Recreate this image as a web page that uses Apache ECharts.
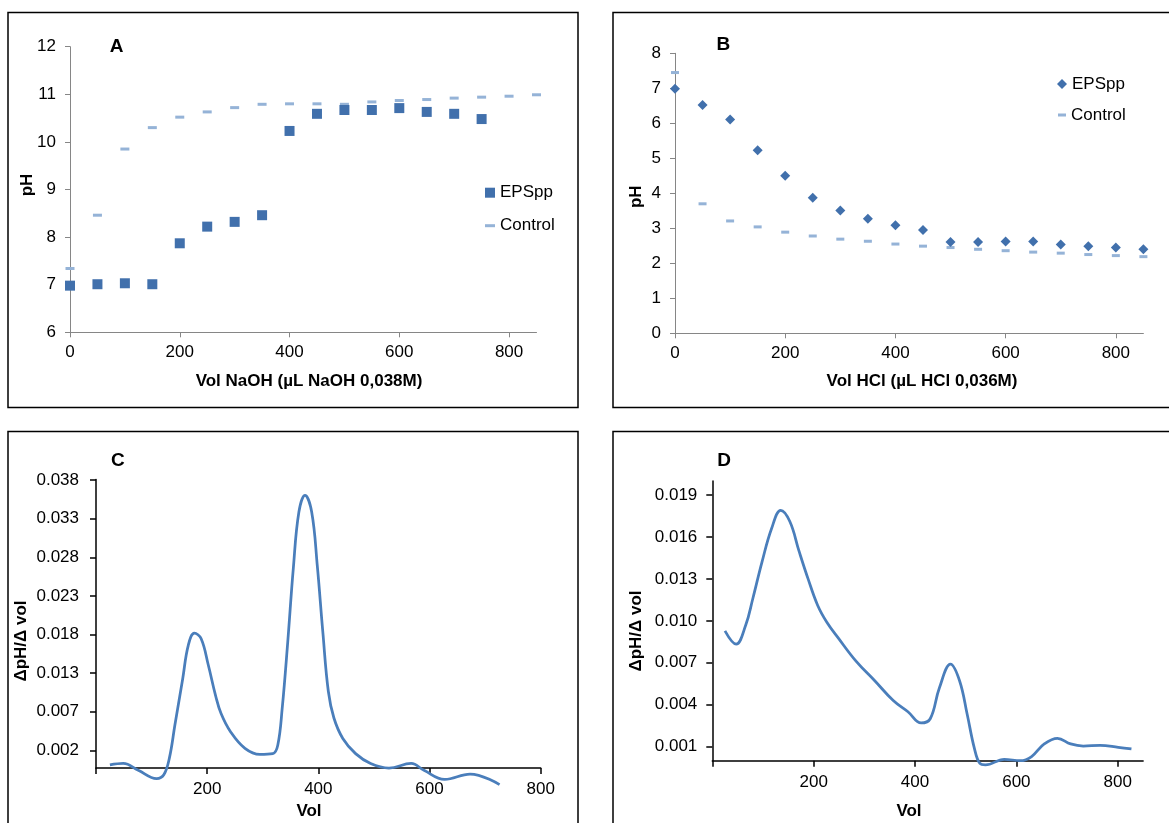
<!DOCTYPE html>
<html>
<head>
<meta charset="utf-8">
<title>Titration curves</title>
<script src="https://cdn.jsdelivr.net/npm/echarts@6/dist/echarts.min.js"></script>
<style>
  html, body { margin: 0; padding: 0; background: #fff; }
  #chart { width: 1169px; height: 823px; }
</style>
</head>
<body>
<div id="chart"></div>
<script>
// ---- Panel A: titration with NaOH ----
const volA = [0, 50, 100, 150, 200, 250, 300, 350, 400, 450, 500, 550, 600, 650, 700, 750, 800, 850];
const epsA = [6.98, 7.01, 7.03, 7.01, 7.87, 8.22, 8.32, 8.46, 10.23, 10.59, 10.67, 10.67, 10.71, 10.63, 10.59, 10.48];
const ctrlA = [7.34, 8.46, 9.85, 10.30, 10.52, 10.63, 10.72, 10.79, 10.80, 10.80, 10.79, 10.84, 10.87, 10.89, 10.92, 10.94, 10.96, 10.99];

// ---- Panel B: titration with HCl ----
const volB = [0, 50, 100, 150, 200, 250, 300, 350, 400, 450, 500, 550, 600, 650, 700, 750, 800, 850];
const epsB = [6.99, 6.52, 6.11, 5.23, 4.50, 3.87, 3.51, 3.27, 3.09, 2.95, 2.61, 2.61, 2.62, 2.62, 2.54, 2.49, 2.45, 2.40];
const ctrlB = [7.45, 3.70, 3.21, 3.04, 2.89, 2.78, 2.69, 2.63, 2.55, 2.49, 2.45, 2.40, 2.36, 2.32, 2.29, 2.25, 2.22, 2.19];

// ---- Panel C: first derivative of the NaOH curve ----
const volC = [25, 49, 76, 109, 122, 132, 142, 156, 166, 177, 189, 202, 215, 225, 242, 268, 295, 318, 327, 335, 345, 355, 365, 376, 388, 398, 408, 418, 428, 444, 467, 494, 527, 567, 590, 627, 673, 726];
const slopeC = [0.0004, 0.0006, -0.0003, -0.0014, -0.0009, 0.0013, 0.0057, 0.0118, 0.0162, 0.0178, 0.0171, 0.0136, 0.0096, 0.0072, 0.0048, 0.0026, 0.0018, 0.0019, 0.0030, 0.0079, 0.0167, 0.0264, 0.0338, 0.0360, 0.0338, 0.0268, 0.0180, 0.0101, 0.0066, 0.0039, 0.0019, 0.0006, 0.0000, 0.0006, -0.0003, -0.0015, -0.0008, -0.0022];

// ---- Panel D: first derivative of the HCl curve ----
const volD = [25, 47, 66, 80, 98, 117, 135, 153, 171, 189, 208, 226, 248, 284, 321, 357, 386, 412, 430, 448, 470, 488, 503, 517, 528, 539, 576, 608, 630, 655, 681, 707, 732, 765, 801, 827];
const slopeD = [0.00928, 0.00833, 0.0097, 0.0116, 0.0142, 0.0166, 0.0179, 0.0171, 0.0150, 0.0130, 0.0111, 0.0099, 0.0088, 0.0071, 0.0057, 0.0043, 0.0035, 0.0027, 0.0030, 0.0052, 0.0069, 0.0057, 0.0033, 0.0009, -0.0002, -0.0003, 0.0001, 0.0000, 0.0003, 0.0012, 0.0016, 0.0012, 0.00105, 0.0011, 0.00096, 0.00084];

// ---- Axis ticks ----
const xTicksAB = [0, 200, 400, 600, 800];
const xTicksCD = [0, 200, 400, 600, 800];
const xLabelsCD = [200, 400, 600, 800];
const yTicksC = [0.00233, 0.00743, 0.01253, 0.01763, 0.02273, 0.02783, 0.03293, 0.03803];
const yTicksD = [0.001, 0.004, 0.007, 0.010, 0.013, 0.016, 0.019];

const FONT = '"Liberation Sans", Arial, sans-serif';
const EPS_COLOR = '#4170AC';
const CTRL_COLOR = '#95B3D7';
const LINE_COLOR = '#4A7EBB';
const GREY_AXIS = '#868686';
const TICK_FONT = 17;

const pairs = (xs, ys) => ys.map((v, i) => [xs[i], v]);

function axisBase(gridIndex, color, width, tickLen, margin) {
  return {
    type: 'value',
    gridIndex,
    splitLine: { show: false },
    axisLine: { show: true, onZero: false, lineStyle: { color, width } },
    axisTick: { show: true, inside: false, length: tickLen, lineStyle: { color, width } },
    axisLabel: { margin, fontSize: TICK_FONT, color: '#000', fontFamily: FONT }
  };
}

function xAxisAB(gridIndex) {
  const a = axisBase(gridIndex, GREY_AXIS, 1, 5, 12);
  a.min = 0; a.max = 850;
  a.axisTick.customValues = xTicksAB;
  a.axisLabel.customValues = xTicksAB;
  return a;
}
function yAxisAB(gridIndex, min, max) {
  const a = axisBase(gridIndex, GREY_AXIS, 1, 5, 14);
  a.min = min; a.max = max; a.interval = 1;
  return a;
}
function xAxisCD(gridIndex, max) {
  const a = axisBase(gridIndex, '#000', 1.5, 6, 13);
  a.min = 0; a.max = max;
  a.axisTick.customValues = xTicksCD;
  a.axisLabel.customValues = xLabelsCD;
  return a;
}
function yAxisCD(gridIndex, max, ticks, margin) {
  const a = axisBase(gridIndex, '#000', 1.5, 6, margin);
  a.min = 0; a.max = max;
  a.axisTick.customValues = ticks;
  a.axisLabel.customValues = ticks;
  a.axisLabel.formatter = v => v.toFixed(3);
  return a;
}

function label(text, x, y, size, rotate) {
  return {
    type: 'text', x, y, rotation: rotate ? Math.PI / 2 : 0, silent: true, z: 10,
    style: {
      text, fill: '#000', font: 'bold ' + size + 'px ' + FONT,
      textAlign: 'center', textVerticalAlign: 'middle', align: 'center', verticalAlign: 'middle'
    }
  };
}
function frame(x, y, w, h) {
  return { type: 'rect', shape: { x, y, width: w, height: h }, silent: true,
           style: { fill: null, stroke: '#000', lineWidth: 1.5 } };
}
function legendItem(left, cy, name, icon, w, h, color) {
  return {
    left, top: cy - 9, padding: 0, itemWidth: w, itemHeight: h, itemGap: 0,
    selectedMode: false,
    data: [{ name, icon, itemStyle: { color } }],
    textStyle: { fontSize: 17, color: '#000', fontFamily: FONT, lineHeight: 18 }
  };
}

const chart = echarts.init(document.getElementById('chart'), null, { renderer: 'canvas' });
chart.setOption({
  animation: false,
  backgroundColor: '#fff',
  textStyle: { fontFamily: FONT },
  grid: [
    { left: 70, top: 46.7, width: 466.5, height: 285.6 },
    { left: 675, top: 53.3, width: 468.4, height: 280 },
    { left: 96, top: 479.5, width: 444.7, height: 288.5 },
    { left: 712.3, top: 481, width: 430.8, height: 279.7 }
  ],
  xAxis: [xAxisAB(0), xAxisAB(1), xAxisCD(2, 800), xAxisCD(3, 850)],
  yAxis: [yAxisAB(0, 6, 12), yAxisAB(1, 0, 8), yAxisCD(2, 0.0381, yTicksC, 17), yAxisCD(3, 0.020, yTicksD, 15)],
  legend: [
    legendItem(485, 192.7, 'EPSpp', 'rect', 10, 10, EPS_COLOR),
    legendItem(485, 225.7, 'Control', 'rect', 10, 3, CTRL_COLOR),
    legendItem(1057, 84, 'EPSpp', 'diamond', 10, 10, EPS_COLOR),
    legendItem(1058, 115, 'Control', 'rect', 8, 3, CTRL_COLOR)
  ],
  series: [
    { name: 'Control', type: 'scatter', xAxisIndex: 0, yAxisIndex: 0, symbol: 'rect', symbolSize: [9, 3],
      itemStyle: { color: CTRL_COLOR, opacity: 1 }, data: pairs(volA, ctrlA) },
    { name: 'EPSpp', type: 'scatter', xAxisIndex: 0, yAxisIndex: 0, symbol: 'rect', symbolSize: 10,
      itemStyle: { color: EPS_COLOR, opacity: 1 }, data: pairs(volA, epsA) },
    { name: 'Control', type: 'scatter', xAxisIndex: 1, yAxisIndex: 1, symbol: 'rect', symbolSize: [8, 3],
      itemStyle: { color: CTRL_COLOR, opacity: 1 }, data: pairs(volB, ctrlB) },
    { name: 'EPSpp', type: 'scatter', xAxisIndex: 1, yAxisIndex: 1, symbol: 'diamond', symbolSize: 10,
      itemStyle: { color: EPS_COLOR, opacity: 1 }, data: pairs(volB, epsB) },
    { name: 'dC', type: 'line', xAxisIndex: 2, yAxisIndex: 2, smooth: 0.4, symbol: 'none', clip: false,
      lineStyle: { color: LINE_COLOR, width: 2.75 }, data: pairs(volC, slopeC) },
    { name: 'dD', type: 'line', xAxisIndex: 3, yAxisIndex: 3, smooth: 0.4, symbol: 'none', clip: false,
      lineStyle: { color: LINE_COLOR, width: 2.75 }, data: pairs(volD, slopeD) }
  ],
  graphic: [
    frame(8, 12.5, 570, 395),
    frame(613, 12.5, 620, 395),
    frame(8, 431.5, 570, 450),
    frame(613, 431.5, 620, 450),
    label('A', 116.7, 46.7, 19),
    label('B', 723.3, 45, 19),
    label('C', 117.8, 461, 19),
    label('D', 724, 461, 19),
    label('pH', 27.8, 185, 17, true),
    label('pH', 636.3, 196.7, 17, true),
    label('\u0394pH/\u0394 vol', 21.5, 641, 17, true),
    label('\u0394pH/\u0394 vol', 636.3, 631, 17, true),
    label('Vol NaOH (\u00b5L NaOH 0,038M)', 309, 381, 17),
    label('Vol HCl (\u00b5L HCl 0,036M)', 922, 381.7, 17),
    label('Vol', 309, 811.7, 17),
    label('Vol', 909, 811.7, 17)
  ]
});
</script>
</body>
</html>
